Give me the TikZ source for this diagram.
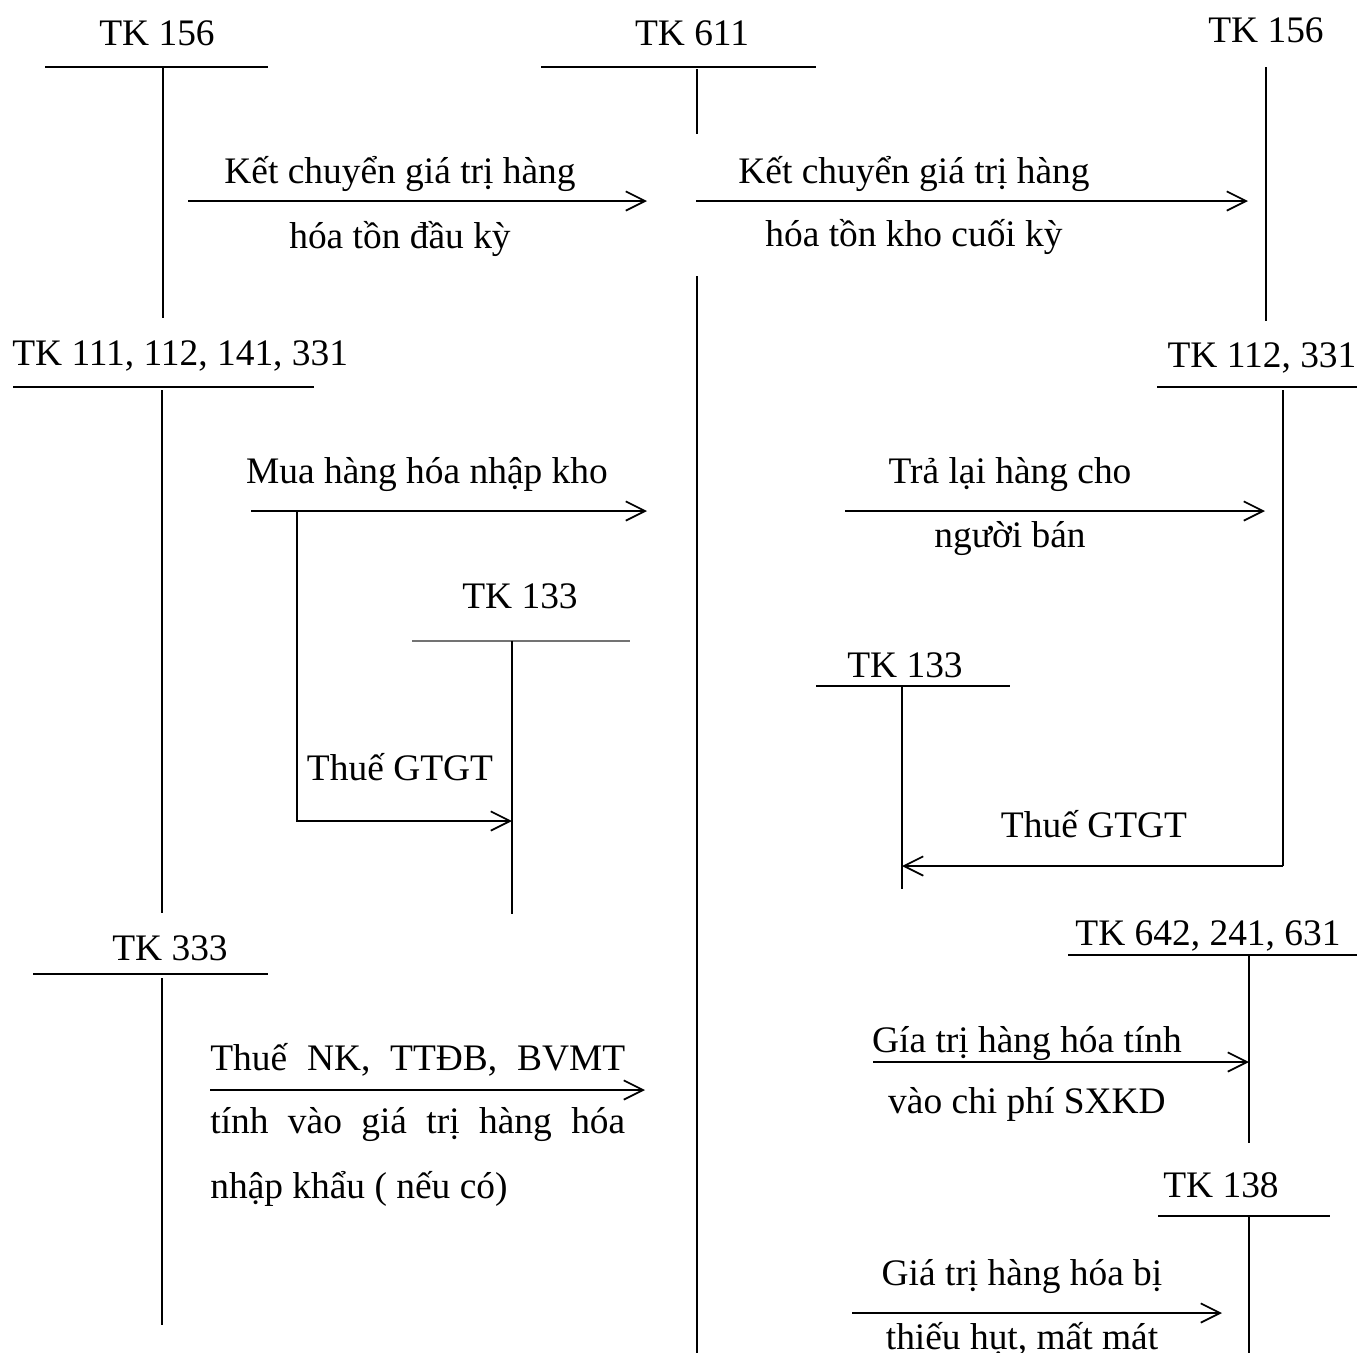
\documentclass[tikz,border=0pt]{standalone}
\usepackage{fontspec}
\setmainfont{Liberation Serif}
\usepackage{tikz}
\usetikzlibrary{arrows.meta,positioning,calc}

\begin{document}
\begin{tikzpicture}[
  x=0.02cm, y=-0.02cm,
  lbl/.style={inner sep=0pt, anchor=base, font=\fontsize{21.3}{25}\selectfont},
  acct/.style={line width=1pt},
  thinacct/.style={line width=0.6pt, black!55},
  arrow/.style={-{Straight Barb[length=11pt,width=11pt]}, line width=1pt}
]
  \useasboundingbox (0,0) rectangle (1357,1353);

  % TK 156 (left, opening stock)
  \node[lbl] (tkA) at (157,45) {TK 156};
  \draw[acct] (45,67) -- (268,67);
  \draw[acct] (163,67) -- (163,318);

  % TK 611 (centre)
  \node[lbl] (tkB) at (692,45) {TK 611};
  \draw[acct] (541,67) -- (816,67);
  \draw[acct] (697,69) -- (697,134);
  \draw[acct] (697,276) -- (697,1353);

  % TK 156 (right, closing stock)
  \node[lbl] (tkC) at (1266,42) {TK 156};
  \draw[acct] (1266,67) -- (1266,321);

  % opening / closing transfer
  \coordinate (kcA) at (188,201);
  \coordinate (kcAend) at (647,201);
  \draw[arrow] (kcA) -- (kcAend);
  \node[lbl] (kcAtop) at (400,183) {Kết chuyển giá trị hàng};
  \node[lbl] (kcAbot) at (400,248) {hóa tồn đầu kỳ};

  \coordinate (kcB) at (696,201);
  \coordinate (kcBend) at (1248,201);
  \draw[arrow] (kcB) -- (kcBend);
  \node[lbl] (kcBtop) at (914,183) {Kết chuyển giá trị hàng};
  \node[lbl] (kcBbot) at (914,246) {hóa tồn kho cuối kỳ};

  % TK 111, 112, 141, 331
  \node[lbl, anchor=base west] (tkD) at (12,365) {TK 111, 112, 141, 331};
  \draw[acct] (13,387) -- (314,387);
  \draw[acct] (162,390) -- (162,913);

  \coordinate (mua) at (251,511);
  \coordinate (muaend) at (647,511);
  \coordinate (vatA) at (297,511);
  \coordinate (vatAend) at (512,821);
  \draw[arrow] (mua) -- (muaend);
  \node[lbl] (muatxt) at (427,483) {Mua hàng hóa nhập kho};
  \draw[arrow] (vatA) |- (vatAend);
  \node[lbl] (vatAtxt) at (400,780) {Thuế GTGT};

  % TK 133 (left)
  \node[lbl] (tkE) at (520,608) {TK 133};
  \draw[thinacct] (412,641) -- (630,641);
  \draw[acct] (512,641) -- (512,914);

  % TK 112, 331
  \node[lbl] (tkF) at (1262,367) {TK 112, 331};
  \draw[acct] (1157,387) -- (1357,387);
  \coordinate (f331) at (1265,511);
  \coordinate (vatB) at (1283,866);
  \coordinate (vatBend) at (902,866);
  \draw[acct] (1283,390) -- (vatB);
  \draw[arrow] (vatB) -- (vatBend);
  \node[lbl] (vatBtxt) at (1094,837) {Thuế GTGT};

  \coordinate (tra) at (845,511);
  \draw[arrow] (tra) -- (f331);
  \node[lbl] (tratop) at (1010,483) {Trả lại hàng cho};
  \node[lbl] (trabot) at (1010,547) {người bán};

  % TK 133 (right)
  \node[lbl] (tkG) at (905,677) {TK 133};
  \draw[acct] (816,686) -- (1010,686);
  \draw[acct] (902,686) -- (902,889);

  % TK 333
  \node[lbl] (tkH) at (170,960) {TK 333};
  \draw[acct] (33,974) -- (268,974);
  \draw[acct] (162,978) -- (162,1325);

  \coordinate (nk) at (210,1090);
  \coordinate (nkend) at (645,1090);
  \draw[arrow] (nk) -- (nkend);
  \node[lbl, anchor=base west] (nk1) at (210,1070) {\makebox[8.3cm][s]{Thuế NK, TTĐB, BVMT}};
  \node[lbl, anchor=base west] (nk2) at (210,1133) {\makebox[8.3cm][s]{tính vào giá trị hàng hóa}};
  \node[lbl, anchor=base west] (nk3) at (210,1198) {nhập khẩu ( nếu có)};

  % TK 642, 241, 631
  \node[lbl] (tkI) at (1208,945) {TK 642, 241, 631};
  \draw[acct] (1068,955) -- (1357,955);
  \coordinate (i631) at (1249,1062);
  \draw[acct] (1249,955) -- (1249,1143);

  \coordinate (cp) at (873,1062);
  \draw[arrow] (cp) -- (i631);
  \node[lbl] (cptop) at (1027,1052) {Gía trị hàng hóa tính};
  \node[lbl] (cpbot) at (1027,1113) {vào chi phí SXKD};

  % TK 138
  \node[lbl] (tkJ) at (1221,1197) {TK 138};
  \draw[acct] (1158,1216) -- (1330,1216);
  \draw[acct] (1249,1216) -- (1249,1353);

  \coordinate (th) at (852,1313);
  \coordinate (thend) at (1222,1313);
  \draw[arrow] (th) -- (thend);
  \node[lbl] (thtop) at (1022,1285) {Giá trị hàng hóa bị};
  \node[lbl] (thbot) at (1022,1349) {thiếu hụt, mất mát};
\end{tikzpicture}
\end{document}
